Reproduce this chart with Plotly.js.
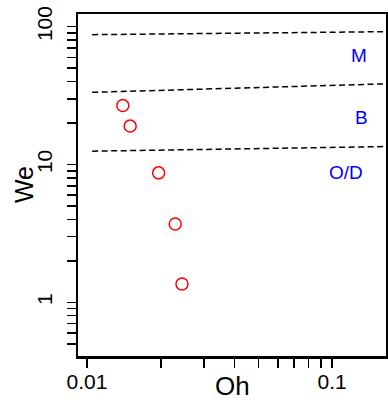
<!DOCTYPE html>
<html>
<head>
<meta charset="utf-8">
<script src="https://cdn.plot.ly/plotly-3.0.1.min.js"></script>
<style>html,body{margin:0;padding:0;background:#fff}#chart{width:388px;height:400px}</style>
</head>
<body>
<div id="chart"></div>
<script>
// Measured data (Ohnesorge vs Weber)
const oh = [0.0140, 0.0150, 0.0196, 0.0229, 0.0244];
const we = [26.8, 19.0, 8.7, 3.7, 1.36];

// Regime boundary lines (dashed)
const boundaryOh = [0.0105, 0.166];
const boundaryTopWe = [87.5, 92.0];
const boundaryMidWe = [33.4, 38.5];
const boundaryLowWe = [12.5, 13.5];

// Regime labels
const regimeLabels = ["M", "B", "O/D"];
const regimeOh = [0.1288, 0.1320, 0.1140];
const regimeWe = [62.0, 21.8, 8.7];

// Tick values / labels
const xTickVals = [0.01,0.02,0.03,0.04,0.05,0.06,0.07,0.08,0.09,0.1];
const xTickText = ["0.01","","","","","","","","","0.1"];
const yTickVals = [0.5,0.6,0.7,0.8,0.9,1,2,3,4,5,6,7,8,9,10,20,30,40,50,60,70,80,90,100];
const yTickText = yTickVals.map(v => (v===1||v===10||v===100) ? String(v) : "");

const FONT = "Liberation Sans, Arial, Helvetica, sans-serif";
const dashLine = {color:"black", width:1.5, dash:"6px,3.5px"};

const traces = [
  {x: boundaryOh, y: boundaryTopWe, mode:"lines", line: dashLine, hoverinfo:"skip"},
  {x: boundaryOh, y: boundaryMidWe, mode:"lines", line: dashLine, hoverinfo:"skip"},
  {x: boundaryOh, y: boundaryLowWe, mode:"lines", line: dashLine, hoverinfo:"skip"},
  {x: oh, y: we, mode:"markers",
   marker:{symbol:"circle-open", size:12, color:"red", line:{color:"red", width:1.5}}}
];

const annotations = regimeLabels.map((t,i) => ({
  x: Math.log10(regimeOh[i]), y: Math.log10(regimeWe[i]), xref:"x", yref:"y",
  text: t, showarrow:false, font:{family:FONT, size:19, color:"blue"}
}));
annotations.push({x:0.5, y:-0.087, xref:"paper", yref:"paper", text:"Oh", showarrow:false,
  xanchor:"center", yanchor:"middle", font:{family:FONT, size:26, color:"black"}});
annotations.push({x:-0.175, y:0.5, xref:"paper", yref:"paper", text:"We", showarrow:false,
  textangle:-90, xanchor:"center", yanchor:"middle", font:{family:FONT, size:25, color:"black"}});

const layout = {
  width:388, height:400,
  margin:{l:78, r:2, t:14, b:44, pad:0},
  paper_bgcolor:"white", plot_bgcolor:"white",
  showlegend:false,
  font:{family:FONT, color:"black"},
  xaxis:{type:"log", range:[-2.0366, -0.7805], tickmode:"array",
    tickvals:xTickVals, ticktext:xTickText, ticks:"outside", ticklen:9, tickwidth:1.5,
    tickcolor:"black", showgrid:false, zeroline:false, showline:true, mirror:true,
    linecolor:"black", linewidth:2.5, ticklabelstandoff:-4,
    tickfont:{family:FONT, size:21, color:"black"}},
  yaxis:{type:"log", range:[-0.389, 2.092], tickmode:"array",
    tickvals:yTickVals, ticktext:yTickText, ticks:"outside", ticklen:9, tickwidth:1.5,
    tickcolor:"black", showgrid:false, zeroline:false, showline:true, mirror:true,
    linecolor:"black", linewidth:2.5, tickangle:-90, ticklabelstandoff:6,
    tickfont:{family:FONT, size:21, color:"black"}},
  annotations: annotations
};

Plotly.newPlot("chart", traces, layout, {staticPlot:true, displayModeBar:false});
</script>
</body>
</html>
